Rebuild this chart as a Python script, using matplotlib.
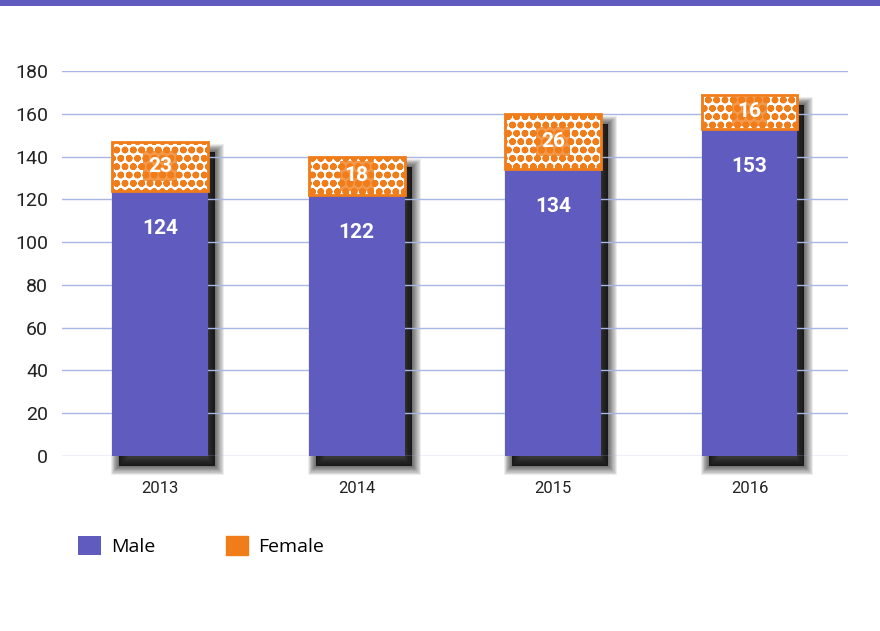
import matplotlib
matplotlib.use("Agg")
import matplotlib.pyplot as plt
import matplotlib.patheffects as pe
import matplotlib.transforms as mtransforms
from matplotlib.patches import Patch, Rectangle

# dados do grafico
anos = ["2013", "2014", "2015", "2016"]
homens = [124, 122, 134, 153]
mulheres = [23, 18, 26, 16]
y_ticks = [0, 20, 40, 60, 80, 100, 120, 140, 160, 180]

roxo = "#5F5BBF"
laranja = "#F07D1A"
grade = "#A9B6E2"

plt.rcParams["font.family"] = ["Roboto", "DejaVu Sans"]
plt.rcParams["hatch.linewidth"] = 2.4

fig = plt.figure(figsize=(8.8, 6.31), dpi=100)
ax = fig.add_axes([0.0705, 0.2773, 0.893, 0.6102])

x = list(range(len(anos)))
total = [h + m for h, m in zip(homens, mulheres)]
largura = 0.487

# sombra borrada (barra total deslocada)
sombra = [pe.Stroke(linewidth=w, foreground="black", alpha=0.09)
          for w in [12, 10.5, 9, 7.5, 6, 4.5, 3, 1.5]]
sombra.append(pe.SimplePatchShadow(offset=(0, 0), shadow_rgbFace="black", alpha=0.78))
desloc = mtransforms.ScaledTranslation(7 / 100, -10 / 100, fig.dpi_scale_trans)
barras_sombra = ax.bar(x, total, largura, facecolor="none", edgecolor="none",
                       zorder=0.3, clip_on=False)
for p in barras_sombra:
    p.set_transform(ax.transData + desloc)
    p.set_path_effects(sombra)

ax.bar(x, homens, largura, color=roxo, zorder=3)
ax.bar(x, mulheres, largura, bottom=homens, facecolor="white",
       edgecolor=laranja, hatch="oo", linewidth=2, zorder=3)

# rotulos
for xi, h, m in zip(x, homens, mulheres):
    ax.text(xi, h - 17.5, str(h), ha="center", va="center", color="white",
            fontsize=15, fontweight="bold", zorder=5)
    ax.text(xi, h + m / 2, str(m), ha="center", va="center", color="white",
            fontsize=15, fontweight="bold", zorder=5,
            bbox=dict(boxstyle="square,pad=0.25", facecolor=laranja,
                      edgecolor="none", alpha=0.8))

ax.set_ylim(0, 180)
ax.set_xlim(-0.5, 3.5)
ax.set_yticks(y_ticks)
ax.set_xticks(x)
ax.set_xticklabels(anos)
ax.yaxis.grid(True, color=grade, linewidth=1)
ax.set_axisbelow(True)
for s in ax.spines.values():
    s.set_visible(False)
ax.tick_params(axis="both", length=0, colors="#222222")
ax.tick_params(axis="y", labelsize=14, pad=10)
ax.tick_params(axis="x", labelsize=12, pad=18)

# faixa roxa no topo
fig.patches.append(Rectangle((0, 1 - 6 / 631), 1, 6 / 631, transform=fig.transFigure,
                             facecolor=roxo, edgecolor="none"))

handles = [Patch(facecolor=roxo, label="Male"),
           Patch(facecolor=laranja, edgecolor=laranja, label="Female")]
fig.legend(handles=handles, loc="center left", bbox_to_anchor=(0.069, 0.135),
           ncol=2, frameon=False, handlelength=1.15, handleheight=1.15,
           columnspacing=3.6, handletextpad=0.55,
           prop={"family": ["Open Sans", "DejaVu Sans"], "size": 14})

fig.savefig("out.png", dpi=100)
